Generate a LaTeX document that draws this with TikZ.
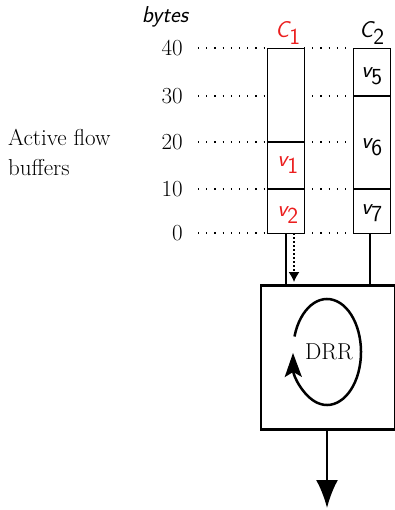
\documentclass[tikz,border=0pt]{standalone}
\usetikzlibrary{arrows.meta}
\begin{document}
\begin{tikzpicture}[x=1pt,y=-1pt,
  every node/.style={font=\fontsize{23}{30}\selectfont, inner sep=0pt},
  buf/.style={draw, line width=1.4pt, minimum width=37pt, minimum height=185pt, anchor=north west},
  lvl/.style={line width=1.2pt, dash pattern=on 1.2pt off 7pt},
  sv/.style={font=\fontsize{23}{30}\selectfont\sffamily\slshape},
  thin/.style={line width=1.3pt}]
\useasboundingbox (0,0) rectangle (395,510);
\definecolor{myred}{RGB}{235,30,30}
% buffers
\node[buf] (c1) at (267,48) {};
\node[buf] (c2) at (353,48) {};
% levels
\foreach \v/\y in {40/48,30/96,20/142,10/189,0/233}{
  \node[anchor=east] (n\v) at (183,\y) {\v};
  \coordinate (l\v) at (198,\y);
  \coordinate (a\v) at (267,\y);
  \coordinate (b\v) at (304,\y);
  \coordinate (d\v) at (353,\y);
  \draw[lvl] (l\v) -- (a\v);
  \draw[lvl] (b\v) -- (d\v);
}
% dividers
\draw[thin] (a20) -- (b20);
\draw[thin] (a10) -- (b10);
\coordinate (e30) at (390,96);
\coordinate (e10) at (390,189);
\draw[thin] (d30) -- (e30);
\draw[thin] (d10) -- (e10);
% labels
\node[sv] (bytes) at (165,17) {bytes};
\node[sv, text=myred] (lc1) at (288,33) {C$_{\textsf{\upshape 1}}$};
\node[sv] (lc2) at (372,33) {C$_{\textsf{\upshape 2}}$};
\node[sv, text=myred] (v1) at (288,165) {v$_{\textsf{\upshape 1}}$};
\node[sv, text=myred] (v2) at (288,215) {v$_{\textsf{\upshape 2}}$};
\node[sv] (v5) at (372,76) {v$_{\textsf{\upshape 5}}$};
\node[sv] (v6) at (372,147) {v$_{\textsf{\upshape 6}}$};
\node[sv] (v7) at (372,213) {v$_{\textsf{\upshape 7}}$};
\node[anchor=west, align=left] (afb) at (8,152) {Active flow\\buffers};
% DRR box
\node[draw, line width=2.5pt, minimum width=134pt, minimum height=144pt, anchor=north west] (drr) at (259.5,284) {};
\node (drrt) at (329,352) {DRR};
\draw[line width=2.5pt, -{Stealth[length=24pt,width=17pt,inset=5pt]}]
  (327,352) ++(-163:34 and 53) arc[start angle=-163, end angle=179, x radius=34, y radius=53];
% connectors
\coordinate (s1) at (286,233);
\coordinate (t1) at (286,284);
\draw[thin] (s1) -- (t1);
\coordinate (s2) at (294,233);
\coordinate (t2) at (294,282);
\draw[thin, dash pattern=on 2pt off 2pt, -{Latex[length=10pt,width=11pt]}] (s2) -- (t2);
\coordinate (s3) at (370,233);
\coordinate (t3) at (370,284);
\draw[thin] (s3) -- (t3);
\coordinate (o1) at (327,428);
\coordinate (out) at (327,508);
\draw[line width=2.5pt, -{Latex[length=28pt,width=22pt]}] (o1) -- (out);
\end{tikzpicture}
\end{document}
